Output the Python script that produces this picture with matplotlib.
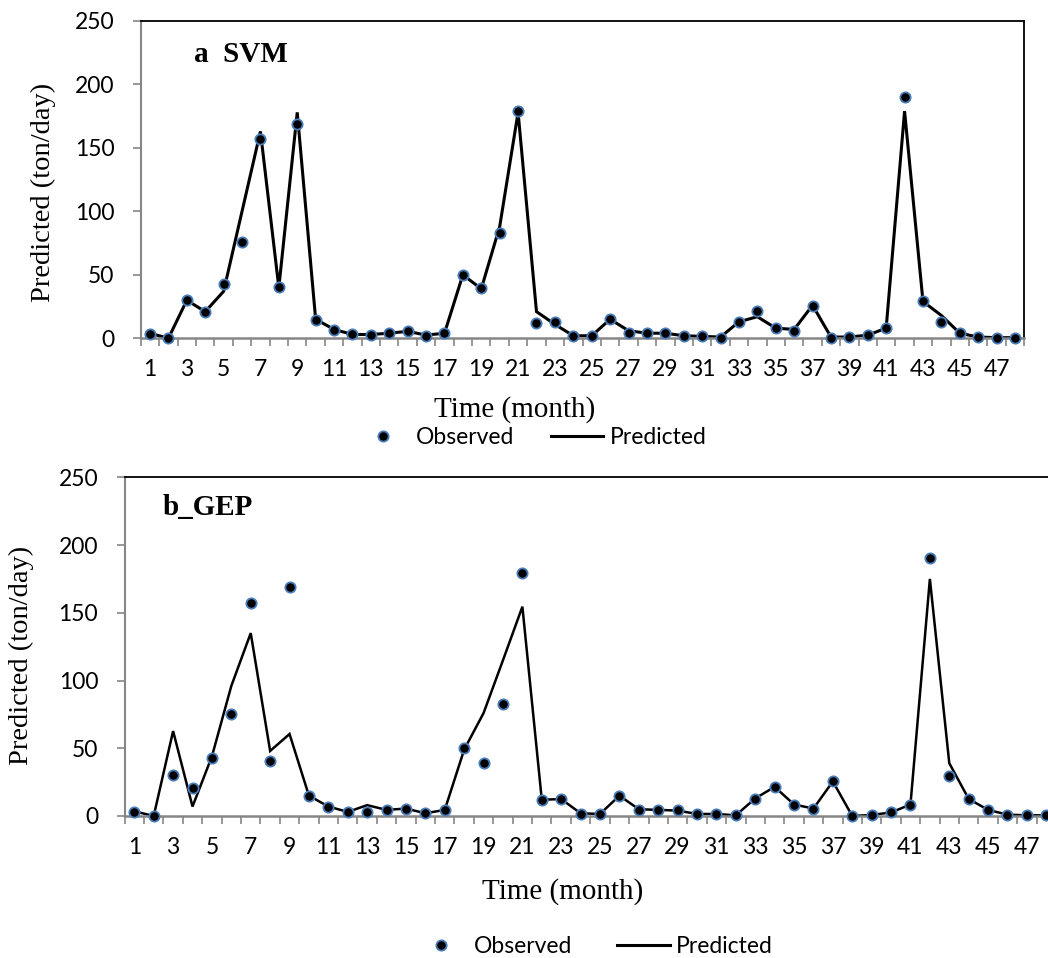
import numpy as np
from matplotlib import pyplot as plt
from matplotlib.lines import Line2D

months = np.arange(1, 49)
observed = [3, 0, 30.5, 21, 42.6, 75.5, 157, 40.8, 169, 14.7, 6.3, 3,
            2.7, 4.2, 5.5, 2, 4.2, 50, 39.4, 82.6, 179, 11.8, 12.6, 1.6,
            1.6, 15, 4.5, 4.2, 4.2, 1.5, 1.5, 0.5, 12.9, 21.3, 8.4, 5.5,
            25.5, 0, 0.8, 2.6, 8.4, 190.3, 29.4, 12.6, 4.5, 1, 0.5, 0.5]
svm_pred = [4, 0, 30, 21, 37, 100, 163, 40, 178, 15, 7, 3,
            3, 4, 5.5, 2.5, 4, 50, 39, 88, 178, 21, 11, 2,
            2, 15, 6, 4, 4, 2, 1.5, 1, 13, 17, 8, 7,
            26, 1, 1, 2.5, 8, 179, 29, 18, 4, 1, 0.5, 0.5]
gep_pred = [3.5, 0, 62.7, 7, 44, 96, 135, 48, 60.5, 15, 7, 3,
            8, 4.5, 5.5, 2, 4.5, 49, 76, 115, 154.5, 12, 12.5, 2,
            1.5, 15, 5, 4.5, 4, 1.5, 1.5, 0.5, 13, 21.5, 8.5, 5.5,
            25.5, 0, 0.8, 2.6, 8.5, 175, 39, 12.6, 4.5, 1, 0.5, 0.5]
yticks = [0, 50, 100, 150, 200, 250]

W, H = 1048, 958
fig = plt.figure(figsize=(W / 100, H / 100), dpi=100)

tick_font = 'Lato'
serif = 'Liberation Serif'
gray = '#868686'
blue = '#4a7ebb'


def px(x0, y0, x1, y1):
    # pixel box (left, top, right, bottom) -> figure fraction rect
    return [x0 / W, (H - y1) / H, (x1 - x0) / W, (y1 - y0) / H]


def panel(rect, pred, title, title_xy, lw, xlab_xy, ylab_xy, leg_xy, colspace):
    ax = fig.add_axes(rect)
    ax.plot(months, pred, color='black', lw=lw, zorder=2, solid_joinstyle='miter')
    ax.plot(months, observed, ls='none', marker='o', ms=7.4, mfc='black',
            mec=blue, mew=1.3, zorder=3, clip_on=False)
    ax.set_xlim(0.5, 48.5)
    ax.set_ylim(0, 250)
    ax.set_yticks(yticks)
    ax.set_xticks(np.arange(0.5, 49, 1))
    ax.set_xticklabels([])
    ax.set_xticks(np.arange(1, 48, 2), minor=True)
    ax.set_xticklabels([str(m) for m in range(1, 48, 2)], minor=True,
                       fontfamily=tick_font, fontsize=16.5)
    ax.tick_params(axis='x', which='major', length=6, color=gray, width=1.2,
                   direction='out')
    ax.tick_params(axis='x', which='minor', length=0, pad=15)
    ax.tick_params(axis='y', length=6, color=gray, width=1.2, pad=13)
    for lab in ax.get_yticklabels():
        lab.set_fontfamily(tick_font)
        lab.set_fontsize(16.5)
    ax.spines['left'].set_color(gray)
    ax.spines['bottom'].set_color(gray)
    ax.spines['left'].set_linewidth(1.5)
    ax.spines['bottom'].set_linewidth(1.8)
    ax.spines['top'].set_linewidth(1.3)
    ax.spines['right'].set_linewidth(1.3)

    fig.text(title_xy[0] / W, (H - title_xy[1]) / H, title, fontfamily=serif,
             fontweight='bold', fontsize=21, va='baseline', ha='left')
    fig.text(xlab_xy[0] / W, (H - xlab_xy[1]) / H, 'Time (month)',
             fontfamily=serif, fontsize=21, ha='center', va='center')
    fig.text(ylab_xy[0] / W, (H - ylab_xy[1]) / H, 'Predicted (ton/day)',
             fontfamily=serif, fontsize=20.5, ha='center', va='center',
             rotation=90)

    handles = [Line2D([], [], ls='none', marker='o', ms=7.4, mfc='black',
                      mec=blue, mew=1.3),
               Line2D([], [], color='black', lw=2.2)]
    ax.legend(handles, ['Observed', 'Predicted'], loc='center',
              bbox_to_anchor=(leg_xy[0] / W, (H - leg_xy[1]) / H),
              bbox_transform=fig.transFigure, ncol=2, frameon=False,
              prop={'family': tick_font, 'size': 16.5}, handlelength=2.3,
              handletextpad=0.27, columnspacing=colspace, borderpad=0,
              borderaxespad=0)
    return ax


panel(px(140.8, 21, 1024.2, 338.3), svm_pred, 'a  SVM', (194, 61.7), 2.2,
      (515, 410), (43, 192.5), (531.5, 438), 1.6)
panel(px(124.6, 477.3, 1056, 816), gep_pred, 'b_GEP', (163, 515), 1.8,
      (563, 891.7), (21.7, 655.8), (594, 946.7), 1.95)

fig.savefig('out.png', dpi=100)
